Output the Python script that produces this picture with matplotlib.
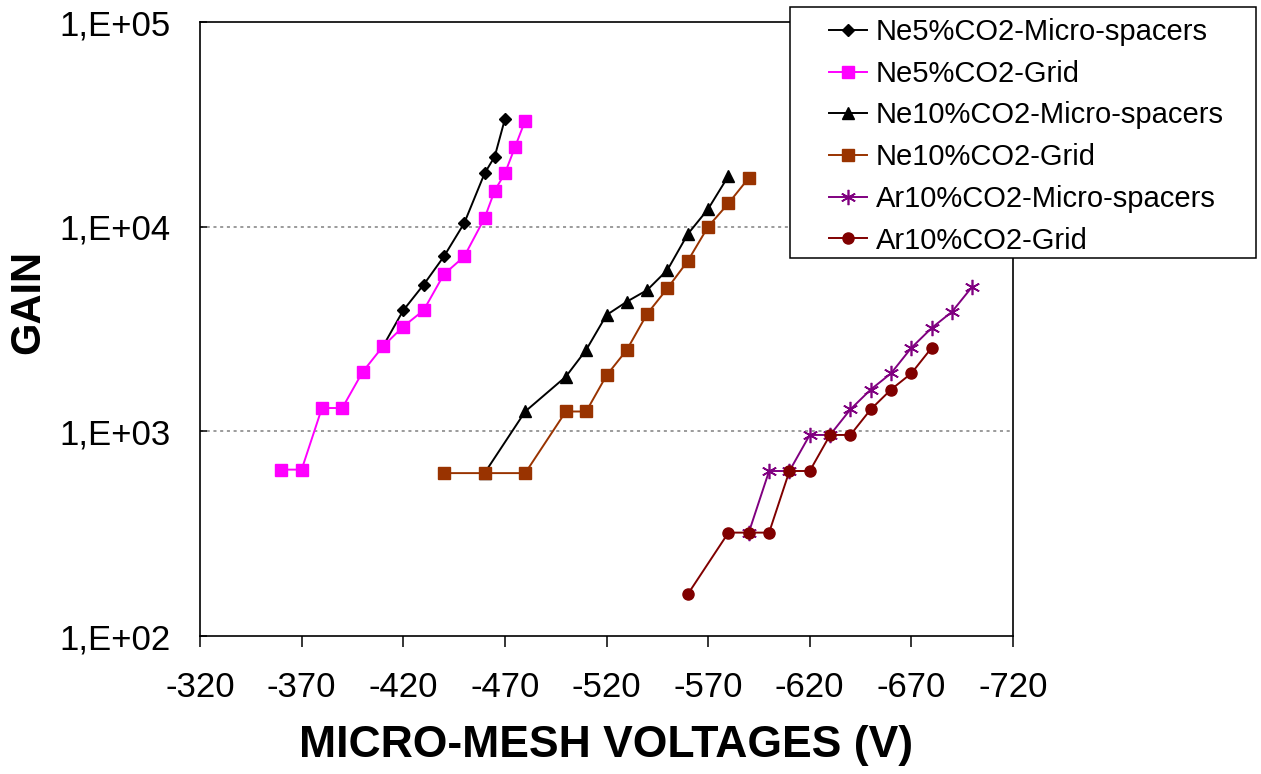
import matplotlib
matplotlib.use("Agg")
import matplotlib.pyplot as plt
from matplotlib.patches import Rectangle
from matplotlib.ticker import FixedLocator, FixedFormatter, NullLocator

plt.rcParams['font.family'] = ['Liberation Sans', 'DejaVu Sans']

# data (voltage in V, gain)
ne5_ms_v = [-410, -420, -430, -440, -450, -460, -465, -470]
ne5_ms_g = [2600, 3900, 5200, 7150, 10400, 18200, 22000, 33500]

ne5_grid_v = [-360, -370, -380, -390, -400, -410, -420, -430, -440, -450, -460, -465, -470, -475, -480]
ne5_grid_g = [650, 650, 1300, 1300, 1950, 2600, 3250, 3900, 5850, 7150, 11000, 15000, 18200, 24500, 33000]

ne10_ms_v = [-460, -480, -500, -510, -520, -530, -540, -550, -560, -570, -580]
ne10_ms_g = [625, 1250, 1850, 2500, 3700, 4300, 4900, 6150, 9200, 12200, 17700]

ne10_grid_v = [-440, -460, -480, -500, -510, -520, -530, -540, -550, -560, -570, -580, -590]
ne10_grid_g = [625, 625, 625, 1250, 1250, 1875, 2500, 3750, 5000, 6800, 10000, 13000, 17300]

ar10_ms_v = [-590, -600, -610, -620, -630, -640, -650, -660, -670, -680, -690, -700]
ar10_ms_g = [320, 640, 640, 960, 960, 1280, 1600, 1920, 2560, 3200, 3840, 5100]

ar10_grid_v = [-560, -580, -590, -600, -610, -620, -630, -640, -650, -660, -670, -680]
ar10_grid_g = [160, 320, 320, 320, 640, 640, 960, 960, 1280, 1600, 1920, 2560]

x_ticks = [-320, -370, -420, -470, -520, -570, -620, -670, -720]
y_ticks = [1e2, 1e3, 1e4, 1e5]
y_tick_labels = ["1,E+02", "1,E+03", "1,E+04", "1,E+05"]

fig = plt.figure(figsize=(12.61, 7.74), dpi=100)
ax = fig.add_axes([200 / 1261, 138 / 774, 813 / 1261, 614 / 774])

lw = 1.4
ax.plot(ne5_ms_v, ne5_ms_g, color='black', lw=lw, marker='D', ms=6.5,
        label='Ne5%CO2-Micro-spacers')
ax.plot(ne5_grid_v, ne5_grid_g, color='#FF00FF', lw=lw, marker='s', ms=8,
        label='Ne5%CO2-Grid')
ax.plot(ne10_ms_v, ne10_ms_g, color='black', lw=lw, marker='^', ms=8,
        label='Ne10%CO2-Micro-spacers')
ax.plot(ne10_grid_v, ne10_grid_g, color='#993300', lw=lw, marker='s', ms=8,
        label='Ne10%CO2-Grid')
ax.plot(ar10_ms_v, ar10_ms_g, color='#800080', lw=lw, marker=(6, 2, 0), ms=11,
        mew=1.2, label='Ar10%CO2-Micro-spacers')
ax.plot(ar10_grid_v, ar10_grid_g, color='#800000', lw=lw, marker='o', ms=8,
        label='Ar10%CO2-Grid')

ax.set_yscale('log')
ax.set_ylim(1e2, 1e5)
ax.set_xlim(-320, -720)

ax.xaxis.set_major_locator(FixedLocator(x_ticks))
ax.set_xticklabels([str(v) for v in x_ticks])
ax.yaxis.set_major_locator(FixedLocator(y_ticks))
ax.yaxis.set_major_formatter(FixedFormatter(y_tick_labels))
ax.yaxis.set_minor_locator(NullLocator())

for v in [1e3, 1e4]:
    ax.axhline(v, color='#808080', lw=1.1, dashes=(2, 2.4), zorder=0)

for sp in ax.spines.values():
    sp.set_linewidth(1.2)

ax.tick_params(axis='x', direction='out', length=8, width=1.1, pad=17, labelsize=25)
ax.tick_params(axis='y', direction='in', length=5, width=1.1, pad=21.5, labelsize=25)

fig.text(606 / 1261, 1 - 745 / 774, 'MICRO-MESH VOLTAGES (V)', fontsize=32,
         fontweight='bold', ha='center', va='center')
fig.text(28 / 1261, 1 - 302 / 774, 'GAIN', fontsize=30, fontweight='bold',
         rotation=90, ha='center', va='center')

# legend box
fig.patches.append(Rectangle((790 / 1261, 1 - 258 / 774), 466 / 1261, 251 / 774,
                             transform=fig.transFigure, facecolor='white',
                             edgecolor='black', lw=1.1, zorder=3))
handles, labels = ax.get_legend_handles_labels()
fig.legend(handles, labels, loc='upper left',
           bbox_to_anchor=(829 / 1261, 1 - 18 / 774), frameon=False,
           fontsize=21, borderpad=0, borderaxespad=0, handlelength=1.3,
           handletextpad=0.3, labelspacing=0.47)

fig.savefig('out.png', dpi=100)
